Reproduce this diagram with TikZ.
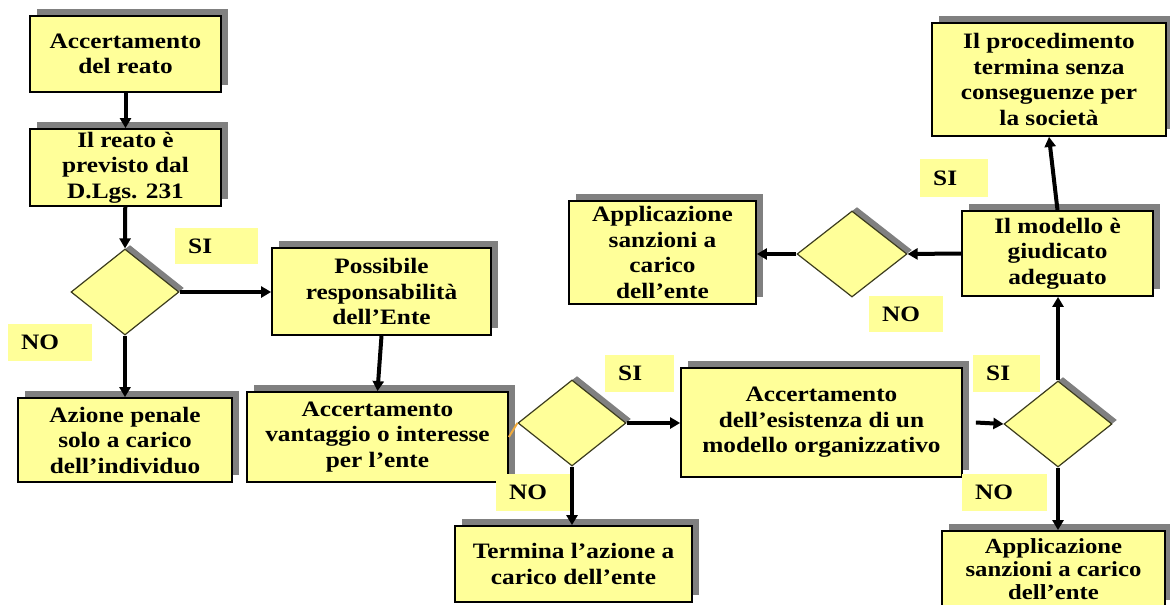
\documentclass[tikz,border=0pt]{standalone}
\usepackage{fontspec}
\setmainfont{Liberation Serif}[FakeStretch=1.15]
\usetikzlibrary{shapes.geometric,shadows,arrows.meta}
\definecolor{ylw}{RGB}{255,255,153}
\definecolor{shd}{RGB}{128,128,128}
\definecolor{dline}{RGB}{60,60,30}
\definecolor{orng}{RGB}{240,170,60}
\begin{document}
\begin{tikzpicture}[x=1pt,y=-1pt,
  txt/.style={font=\bfseries\fontsize{22}{25.5}\selectfont},
  box/.style={txt, draw=black, line width=1.8pt, fill=ylw, align=center, inner sep=0pt,
    drop shadow={shadow xshift=7pt, shadow yshift=7pt, fill=shd, opacity=1}},
  dia/.style={diamond, draw=dline, line width=1.2pt, fill=ylw, inner sep=0pt,
    minimum width=108pt, minimum height=86pt,
    drop shadow={shadow xshift=5pt, shadow yshift=4pt, fill=shd, opacity=1}},
  lbl/.style={txt, fill=ylw, anchor=north west, inner xsep=13pt, inner ysep=0pt,
    align=left, minimum height=37pt},
  arr/.style={line width=4pt, -{Triangle[length=10pt,width=11pt]}}]
\useasboundingbox (0,0) rectangle (1170,605);
\fill[white] (0,0) rectangle (1170,605);

% boxes
\node[box, minimum width=191pt, minimum height=76pt] (b1) at (125.5,54) {Accertamento\\del reato};
\node[box, minimum width=191pt, minimum height=77pt] (b2) at (125.5,167.5) {Il reato è\\previsto dal\\D.Lgs. 231};
\node[box, minimum width=219pt, minimum height=87pt] (b4) at (381.5,291.5) {Possibile\\responsabilità\\dell’Ente};
\node[box, minimum width=214pt, minimum height=84pt] (b5) at (125,440) {Azione penale\\solo a carico\\dell’individuo};
\node[box, minimum width=261pt, minimum height=90pt] (b6) at (377.5,437) {Accertamento\\vantaggio o interesse\\per l’ente};
\node[box, minimum width=281pt, minimum height=109pt] (b8) at (821.5,422.5) {Accertamento\\dell’esistenza di un\\modello organizzativo};
\node[box, minimum width=237pt, minimum height=76pt] (b9) at (573.5,564) {Termina l’azione a\\carico dell’ente};
\node[box, minimum width=223pt, minimum height=76pt, font=\bfseries\fontsize{21.5}{23}\selectfont] (b11) at (1053.5,569) {Applicazione\\sanzioni a carico\\dell’ente};
\node[box, minimum width=191pt, minimum height=85pt] (b12) at (1057.5,253.5) {Il modello è\\giudicato\\adeguato};
\node[box, minimum width=234pt, minimum height=113pt] (b13) at (1049,79.5) {Il procedimento\\termina senza\\conseguenze per\\la società};
\node[box, minimum width=187pt, minimum height=103pt] (b14) at (662.5,252.5) {Applicazione\\sanzioni a\\carico\\dell’ente};

% diamonds
\node[dia] (d1) at (125,292) {};
\node[dia] (d2) at (572,423) {};
\node[dia] (d3) at (1058,424) {};
\node[dia, minimum width=110pt] (d4) at (852,254) {};

% labels
\node[lbl, text width=57pt, minimum height=36pt] (si1) at (175,228) {SI};
\node[lbl, text width=58pt] (no1) at (8,324) {NO};
\node[lbl, text width=43pt] (si2) at (605,355) {SI};
\node[lbl, text width=48pt] (no2) at (496,474) {NO};
\node[lbl, text width=41pt] (si3) at (973,355) {SI};
\node[lbl, text width=59pt] (no3) at (962,474) {NO};
\node[lbl, text width=42pt, minimum height=38pt] (si4) at (920,159) {SI};
\node[lbl, text width=48pt, minimum height=36pt] (no4) at (869,296) {NO};

% connectors
\draw[arr] (b1) -- (b2);
\draw[arr] (b2) -- (d1.north);
\draw[arr] (d1.east) -- (b4.west |- d1.east);
\draw[arr] (d1.south) -- (d1.south |- b5.north);
\draw[arr] (b4.south) -- (b6.north);
\draw[orng, line width=2pt] (b6.east) -- (d2.west);
\draw[arr] (d2.east) -- (b8.west |- d2.east);
\draw[arr] (d2.south) -- (d2.south |- b9.north);
\draw[arr] ([xshift=13pt]b8.east) -- (d3.west);
\draw[arr] (d3.south) -- (d3.south |- b11.north);
\draw[arr] (d3.north) -- (d3.north |- b12.south);
\draw[arr] (b12.north) -- (b13.south);
\draw[arr] (b12.west) -- (d4.east);
\draw[arr] (d4.west) -- (b14.east |- d4.west);
\end{tikzpicture}
\end{document}
